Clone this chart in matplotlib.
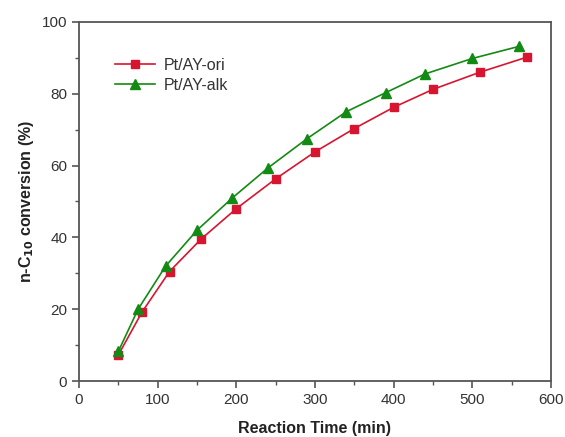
import matplotlib
matplotlib.use("Agg")
import matplotlib.pyplot as plt
from matplotlib.ticker import MultipleLocator

plt.rcParams['font.family'] = ['Liberation Sans', 'DejaVu Sans']

# Reaction time (min) and n-C10 conversion (%)
time_ori = [50, 80, 115, 155, 200, 250, 300, 350, 400, 450, 510, 570]
conv_ori = [7.3, 19.2, 30.5, 39.5, 48.0, 56.3, 63.8, 70.3, 76.2, 81.2, 86.0, 90.2]
time_alk = [50, 75, 110, 150, 195, 240, 290, 340, 390, 440, 500, 560]
conv_alk = [8.3, 20.0, 32.0, 42.0, 51.0, 59.3, 67.5, 75.0, 80.3, 85.5, 89.8, 93.2]
labels = ['Pt/AY-ori', 'Pt/AY-alk']

fig = plt.figure(figsize=(5.65, 4.37), dpi=100)
ax = fig.add_axes([0.14, 0.128, 0.835, 0.822])

ax.plot(time_ori, conv_ori, '-s', color='#d81530', markersize=6, lw=1.2, label=labels[0])
ax.plot(time_alk, conv_alk, '-^', color='#138a13', markersize=7, lw=1.2, label=labels[1])

ax.set_xlim(0, 600)
ax.set_ylim(0, 100)
ax.xaxis.set_major_locator(MultipleLocator(100))
ax.xaxis.set_minor_locator(MultipleLocator(50))
ax.yaxis.set_major_locator(MultipleLocator(20))
ax.yaxis.set_minor_locator(MultipleLocator(10))

for s in ax.spines.values():
    s.set_color('#555555')
    s.set_linewidth(1.3)
ax.tick_params(which='both', direction='out', colors='#555555', labelcolor='#333333',
               top=False, right=False, labelsize=11)
ax.tick_params(which='major', length=5, width=1.2)
ax.tick_params(which='minor', length=3, width=1.0)

ax.set_xlabel('Reaction Time (min)', fontsize=11.5, fontweight='bold', color='#222222', labelpad=10)
ax.set_ylabel('n-C$_{\\mathbf{10}}$ conversion (%)', fontsize=11.5, fontweight='bold', color='#222222', labelpad=4)

ax.legend(loc='upper left', bbox_to_anchor=(0.045, 0.94), frameon=False, fontsize=11.5,
          handlelength=2.5, handletextpad=0.6, labelspacing=0.3, labelcolor='#333333')

fig.savefig('out.png', dpi=100)
